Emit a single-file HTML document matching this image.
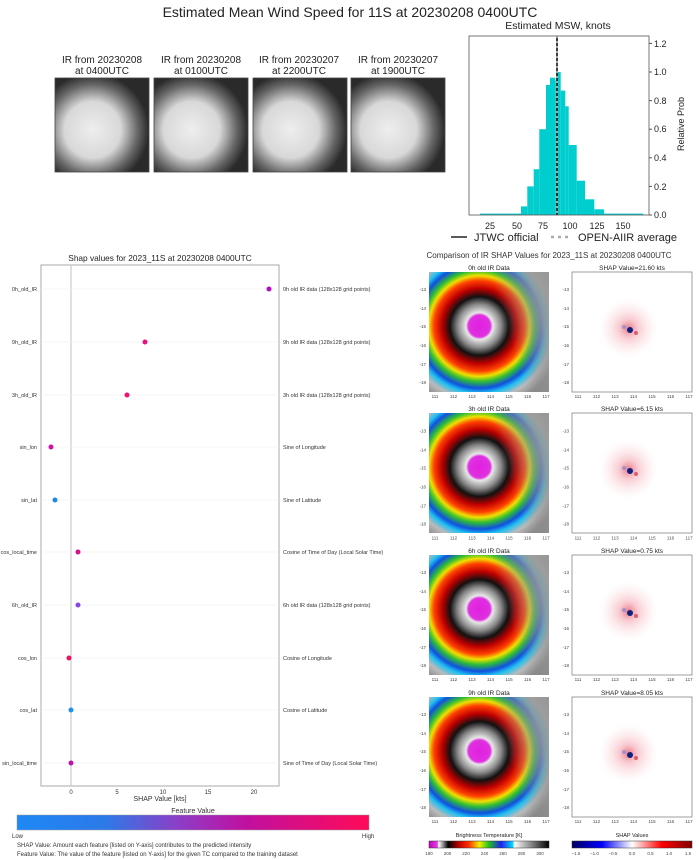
<!DOCTYPE html>
<html><head><meta charset="utf-8"><style>
html,body{margin:0;padding:0;background:#fff}
svg{display:block;font-family:"Liberation Sans",sans-serif}
</style></head><body>
<svg width="699" height="860" viewBox="0 0 699 860" xmlns="http://www.w3.org/2000/svg">
<defs>
<radialGradient id="ir" cx="0.42" cy="0.45" r="0.7">
<stop offset="0" stop-color="#e020e0"/><stop offset="0.13" stop-color="#e030e0"/>
<stop offset="0.16" stop-color="#e8e8e8"/><stop offset="0.26" stop-color="#888"/>
<stop offset="0.35" stop-color="#111"/><stop offset="0.45" stop-color="#c00000"/>
<stop offset="0.54" stop-color="#ff4000"/><stop offset="0.6" stop-color="#f0e000"/>
<stop offset="0.66" stop-color="#30c030"/><stop offset="0.74" stop-color="#1050e0"/>
<stop offset="0.8" stop-color="#20c0f0"/><stop offset="0.88" stop-color="#bbb"/>
<stop offset="1" stop-color="#8a8a8a"/></radialGradient>
<linearGradient id="irfade" x1="0" y1="0.3" x2="1" y2="0">
<stop offset="0" stop-color="#888" stop-opacity="0"/><stop offset="0.55" stop-color="#888" stop-opacity="0"/><stop offset="0.85" stop-color="#999" stop-opacity="0.85"/><stop offset="1" stop-color="#999" stop-opacity="0.9"/></linearGradient>
<radialGradient id="shap" cx="0.48" cy="0.48" r="0.4">
<stop offset="0" stop-color="#e04050" stop-opacity="0.7"/><stop offset="0.3" stop-color="#f08090" stop-opacity="0.4"/><stop offset="0.7" stop-color="#f8c8cc" stop-opacity="0.2"/><stop offset="1" stop-color="#fff" stop-opacity="0"/></radialGradient>
<radialGradient id="thumb" cx="0.4" cy="0.55" r="0.6">
<stop offset="0" stop-color="#eee"/><stop offset="0.5" stop-color="#d8d8d8"/><stop offset="0.8" stop-color="#666"/><stop offset="1" stop-color="#2a2a2a"/></radialGradient>
<linearGradient id="fv" x1="0" x2="1">
<stop offset="0" stop-color="#1e88f5"/><stop offset="0.25" stop-color="#2c7ae8"/><stop offset="0.45" stop-color="#8a40c8"/><stop offset="0.65" stop-color="#c010a0"/><stop offset="1" stop-color="#ff0a58"/></linearGradient>
<linearGradient id="bt" x1="0" x2="1">
<stop offset="0" stop-color="#c000c0"/><stop offset="0.07" stop-color="#e040e0"/><stop offset="0.08" stop-color="#fff"/><stop offset="0.12" stop-color="#888"/><stop offset="0.16" stop-color="#000"/><stop offset="0.25" stop-color="#c00000"/><stop offset="0.33" stop-color="#ff3000"/><stop offset="0.42" stop-color="#f0f000"/><stop offset="0.5" stop-color="#20c020"/><stop offset="0.6" stop-color="#2020f0"/><stop offset="0.7" stop-color="#00e0ff"/><stop offset="0.71" stop-color="#fff"/><stop offset="0.85" stop-color="#888"/><stop offset="1" stop-color="#000"/></linearGradient>
<linearGradient id="sv" x1="0" x2="1">
<stop offset="0" stop-color="#000060"/><stop offset="0.25" stop-color="#0000ff"/><stop offset="0.5" stop-color="#fff"/><stop offset="0.75" stop-color="#ff0000"/><stop offset="1" stop-color="#800000"/></linearGradient>
<g id="irp"><rect width="120" height="120" fill="url(#ir)"/><rect width="120" height="120" fill="url(#irfade)"/></g>
<g id="shp"><rect width="120" height="120" fill="#fff" stroke="#888" stroke-width="0.8"/><circle cx="58" cy="58" r="40" fill="url(#shap)"/><circle cx="58" cy="58" r="3" fill="#102080"/><circle cx="52" cy="55" r="2" fill="#7080e0" opacity="0.6"/><circle cx="64" cy="61" r="2" fill="#d03040" opacity="0.7"/></g>
<g id="thumbg"><rect width="94" height="94" fill="url(#thumb)" stroke="#444" stroke-width="0.8"/></g>
</defs>

<text x="350" y="17" font-size="14" text-anchor="middle" fill="#222">Estimated Mean Wind Speed for 11S at 20230208 0400UTC</text>

<g font-size="10" text-anchor="middle" fill="#222">
<text x="102" y="63">IR from 20230208</text><text x="102" y="74">at 0400UTC</text>
<text x="201" y="63">IR from 20230208</text><text x="201" y="74">at 0100UTC</text>
<text x="299" y="63">IR from 20230207</text><text x="299" y="74">at 2200UTC</text>
<text x="398" y="63">IR from 20230207</text><text x="398" y="74">at 1900UTC</text>
</g>
<use href="#thumbg" x="55" y="78"/><use href="#thumbg" x="154" y="78"/><use href="#thumbg" x="253" y="78"/><use href="#thumbg" x="351" y="78"/>

<text x="558" y="29" font-size="10.5" text-anchor="middle" fill="#222">Estimated MSW, knots</text>
<g fill="#00cdcd">
<rect x="480" y="213.6" width="41" height="1.4"/><rect x="521" y="206.4" width="6.3" height="8.6"/><rect x="527.3" y="186.4" width="6.4" height="28.6"/><rect x="533.7" y="169.2" width="5.6" height="45.8"/><rect x="539.3" y="129.2" width="6.7" height="85.8"/><rect x="546" y="84.9" width="4" height="130.1"/><rect x="550" y="77.7" width="5.3" height="137.3"/><rect x="555.3" y="80.6" width="2" height="134.4"/><rect x="557.3" y="72" width="3.4" height="143"/><rect x="560.7" y="90.6" width="4.6" height="124.4"/><rect x="565.3" y="106.3" width="3.4" height="108.7"/><rect x="568.7" y="145" width="8" height="70"/><rect x="576.7" y="180.7" width="8.3" height="34.3"/><rect x="585" y="199.3" width="9.3" height="15.7"/><rect x="594.3" y="209.3" width="9.7" height="5.7"/><rect x="604" y="213.6" width="39.3" height="1.4"/>
</g>
<line x1="557" y1="36" x2="557" y2="215" stroke="#000" stroke-width="1.5"/>
<line x1="557" y1="36" x2="557" y2="215" stroke="#aaa" stroke-width="2" stroke-dasharray="2,3"/>
<rect x="469" y="36" width="180" height="179" fill="none" stroke="#555" stroke-width="0.8"/>
<g font-size="9" fill="#222">
<g stroke="#555"><line x1="649" y1="215" x2="652" y2="215"/><line x1="649" y1="186.4" x2="652" y2="186.4"/><line x1="649" y1="157.8" x2="652" y2="157.8"/><line x1="649" y1="129.2" x2="652" y2="129.2"/><line x1="649" y1="100.6" x2="652" y2="100.6"/><line x1="649" y1="72" x2="652" y2="72"/><line x1="649" y1="43.4" x2="652" y2="43.4"/></g>
<text x="654" y="218">0.0</text><text x="654" y="190">0.2</text><text x="654" y="161">0.4</text><text x="654" y="132">0.6</text><text x="654" y="104">0.8</text><text x="654" y="75">1.0</text><text x="654" y="47">1.2</text>
<g text-anchor="middle"><text x="490" y="229">25</text><text x="517" y="229">50</text><text x="543" y="229">75</text><text x="570" y="229">100</text><text x="597" y="229">125</text><text x="623" y="229">150</text></g>
<text x="684" y="124" transform="rotate(-90 684 124)" text-anchor="middle">Relative Prob</text>
</g>
<line x1="451" y1="237" x2="467" y2="237" stroke="#222" stroke-width="1.5"/>
<text x="474" y="241" font-size="11" fill="#222">JTWC official</text>
<line x1="551" y1="237" x2="570" y2="237" stroke="#aaa" stroke-width="2.5" stroke-dasharray="3,4"/>
<text x="578" y="241" font-size="11" fill="#222">OPEN-AIIR average</text>

<text x="160" y="261" font-size="8.3" text-anchor="middle" fill="#222">Shap values for 2023_11S at 20230208 0400UTC</text>
<rect x="41" y="265" width="238" height="521" fill="none" stroke="#aaa" stroke-width="1"/>
<line x1="71" y1="265" x2="71" y2="786" stroke="#ccc" stroke-width="1.2"/>
<g stroke="#eee" stroke-width="0.6">
<line x1="41" y1="289" x2="279" y2="289"/><line x1="41" y1="342" x2="279" y2="342"/><line x1="41" y1="395" x2="279" y2="395"/><line x1="41" y1="447" x2="279" y2="447"/><line x1="41" y1="500" x2="279" y2="500"/><line x1="41" y1="552" x2="279" y2="552"/><line x1="41" y1="605" x2="279" y2="605"/><line x1="41" y1="658" x2="279" y2="658"/><line x1="41" y1="710" x2="279" y2="710"/><line x1="41" y1="763" x2="279" y2="763"/>
</g>
<g font-size="5.5" fill="#333" text-anchor="end">
<text x="37" y="291">0h_old_IR</text><text x="37" y="344">9h_old_IR</text><text x="37" y="397">3h_old_IR</text><text x="37" y="449">sin_lon</text><text x="37" y="502">sin_lat</text><text x="37" y="554">cos_local_time</text><text x="37" y="607">6h_old_IR</text><text x="37" y="660">cos_lon</text><text x="37" y="712">cos_lat</text><text x="37" y="765">sin_local_time</text>
</g>
<g font-size="5.5" fill="#333">
<text x="283" y="291">0h old IR data (128x128 grid points)</text><text x="283" y="344">9h old IR data (128x128 grid points)</text><text x="283" y="397">3h old IR data (128x128 grid points)</text><text x="283" y="449">Sine of Longitude</text><text x="283" y="502">Sine of Latitude</text><text x="283" y="554">Cosine of Time of Day (Local Solar Time)</text><text x="283" y="607">6h old IR data (128x128 grid points)</text><text x="283" y="660">Cosine of Longitude</text><text x="283" y="712">Cosine of Latitude</text><text x="283" y="765">Sine of Time of Day (Local Solar Time)</text>
</g>
<g>
<circle cx="269" cy="289" r="2.5" fill="#b010c0"/><circle cx="145" cy="342" r="2.5" fill="#e8107a"/><circle cx="127" cy="395" r="2.5" fill="#f01070"/><circle cx="51" cy="447" r="2.5" fill="#d010a8"/><circle cx="55" cy="500" r="2.5" fill="#1e88e5"/><circle cx="78" cy="552" r="2.5" fill="#d01090"/><circle cx="78" cy="605" r="2.5" fill="#8a44e8"/><circle cx="69" cy="658" r="2.5" fill="#f01060"/><circle cx="71" cy="710" r="2.5" fill="#1e90f0"/><circle cx="71" cy="763" r="2.5" fill="#c010b0"/>
</g>
<g font-size="6" fill="#333" text-anchor="middle">
<text x="71" y="794">0</text><text x="117" y="794">5</text><text x="163" y="794">10</text><text x="208" y="794">15</text><text x="254" y="794">20</text>
</g>
<text x="160" y="801" font-size="7" text-anchor="middle" fill="#333">SHAP Value [kts]</text>
<text x="193" y="813" font-size="7" text-anchor="middle" fill="#333">Feature Value</text>
<rect x="17" y="815" width="352" height="15" fill="url(#fv)" stroke="#999" stroke-width="0.5"/>
<text x="12" y="838" font-size="6" fill="#333">Low</text><text x="362" y="838" font-size="6" fill="#333">High</text>
<text x="17" y="847" font-size="6" fill="#333">SHAP Value: Amount each feature [listed on Y-axis] contributes to the predicted intensity</text>
<text x="17" y="856" font-size="6" fill="#333">Feature Value: The value of the feature [listed on Y-axis] for the given TC compared to the training dataset</text>

<text x="549" y="258" font-size="8" text-anchor="middle" fill="#333">Comparison of IR SHAP Values for 2023_11S at 20230208 0400UTC</text>
<g font-size="6.5" text-anchor="middle" fill="#222">
<text x="489" y="270">0h old IR Data</text><text x="632" y="270">SHAP Value=21.60 kts</text>
<text x="489" y="411">3h old IR Data</text><text x="632" y="411">SHAP Value=6.15 kts</text>
<text x="489" y="553">6h old IR Data</text><text x="632" y="553">SHAP Value=0.75 kts</text>
<text x="489" y="695">9h old IR Data</text><text x="632" y="695">SHAP Value=8.05 kts</text>
</g>
<use href="#irp" x="429" y="272"/><use href="#shp" x="572" y="272"/>
<use href="#irp" x="429" y="413"/><use href="#shp" x="572" y="413"/>
<use href="#irp" x="429" y="555"/><use href="#shp" x="572" y="555"/>
<use href="#irp" x="429" y="697"/><use href="#shp" x="572" y="697"/>

<g font-size="4.5" fill="#444">
<g text-anchor="end"><text x="426" y="291">-13</text><text x="426" y="310">-14</text><text x="426" y="328">-15</text><text x="426" y="347">-16</text><text x="426" y="366">-17</text><text x="426" y="384">-18</text>
<text x="569" y="291">-13</text><text x="569" y="310">-14</text><text x="569" y="328">-15</text><text x="569" y="347">-16</text><text x="569" y="366">-17</text><text x="569" y="384">-18</text></g>
<g text-anchor="middle"><text x="435" y="398">111</text><text x="453.5" y="398">112</text><text x="472" y="398">113</text><text x="490.5" y="398">114</text><text x="509" y="398">115</text><text x="527.5" y="398">116</text><text x="546" y="398">117</text>
<text x="578" y="398">111</text><text x="596.5" y="398">112</text><text x="615" y="398">113</text><text x="633.5" y="398">114</text><text x="652" y="398">115</text><text x="670.5" y="398">116</text><text x="689" y="398">117</text></g>
</g>
<g font-size="4.5" fill="#444" transform="translate(0,141.5)">
<g text-anchor="end"><text x="426" y="291">-13</text><text x="426" y="310">-14</text><text x="426" y="328">-15</text><text x="426" y="347">-16</text><text x="426" y="366">-17</text><text x="426" y="384">-18</text>
<text x="569" y="291">-13</text><text x="569" y="310">-14</text><text x="569" y="328">-15</text><text x="569" y="347">-16</text><text x="569" y="366">-17</text><text x="569" y="384">-18</text></g>
<g text-anchor="middle"><text x="435" y="398">111</text><text x="453.5" y="398">112</text><text x="472" y="398">113</text><text x="490.5" y="398">114</text><text x="509" y="398">115</text><text x="527.5" y="398">116</text><text x="546" y="398">117</text>
<text x="578" y="398">111</text><text x="596.5" y="398">112</text><text x="615" y="398">113</text><text x="633.5" y="398">114</text><text x="652" y="398">115</text><text x="670.5" y="398">116</text><text x="689" y="398">117</text></g>
</g>
<g font-size="4.5" fill="#444" transform="translate(0,283)">
<g text-anchor="end"><text x="426" y="291">-13</text><text x="426" y="310">-14</text><text x="426" y="328">-15</text><text x="426" y="347">-16</text><text x="426" y="366">-17</text><text x="426" y="384">-18</text>
<text x="569" y="291">-13</text><text x="569" y="310">-14</text><text x="569" y="328">-15</text><text x="569" y="347">-16</text><text x="569" y="366">-17</text><text x="569" y="384">-18</text></g>
<g text-anchor="middle"><text x="435" y="398">111</text><text x="453.5" y="398">112</text><text x="472" y="398">113</text><text x="490.5" y="398">114</text><text x="509" y="398">115</text><text x="527.5" y="398">116</text><text x="546" y="398">117</text>
<text x="578" y="398">111</text><text x="596.5" y="398">112</text><text x="615" y="398">113</text><text x="633.5" y="398">114</text><text x="652" y="398">115</text><text x="670.5" y="398">116</text><text x="689" y="398">117</text></g>
</g>
<g font-size="4.5" fill="#444" transform="translate(0,425)">
<g text-anchor="end"><text x="426" y="291">-13</text><text x="426" y="310">-14</text><text x="426" y="328">-15</text><text x="426" y="347">-16</text><text x="426" y="366">-17</text><text x="426" y="384">-18</text>
<text x="569" y="291">-13</text><text x="569" y="310">-14</text><text x="569" y="328">-15</text><text x="569" y="347">-16</text><text x="569" y="366">-17</text><text x="569" y="384">-18</text></g>
<g text-anchor="middle"><text x="435" y="398">111</text><text x="453.5" y="398">112</text><text x="472" y="398">113</text><text x="490.5" y="398">114</text><text x="509" y="398">115</text><text x="527.5" y="398">116</text><text x="546" y="398">117</text>
<text x="578" y="398">111</text><text x="596.5" y="398">112</text><text x="615" y="398">113</text><text x="633.5" y="398">114</text><text x="652" y="398">115</text><text x="670.5" y="398">116</text><text x="689" y="398">117</text></g>
</g>

<text x="489" y="837" font-size="5.5" text-anchor="middle" fill="#222">Brightness Temperature [K]</text>
<rect x="429" y="841" width="120" height="7" fill="url(#bt)" stroke="#333" stroke-width="0.5"/>
<g font-size="4.5" fill="#444" text-anchor="middle"><text x="429" y="855">180</text><text x="447.5" y="855">200</text><text x="466" y="855">220</text><text x="484.5" y="855">240</text><text x="503" y="855">260</text><text x="521.5" y="855">280</text><text x="540" y="855">300</text></g>
<text x="632" y="837" font-size="5.5" text-anchor="middle" fill="#222">SHAP Values</text>
<rect x="572" y="841" width="120" height="7" fill="url(#sv)" stroke="#333" stroke-width="0.5"/>
<g font-size="4.5" fill="#444" text-anchor="middle"><text x="576" y="855">−1.5</text><text x="594.5" y="855">−1.0</text><text x="613" y="855">−0.5</text><text x="632" y="855">0.0</text><text x="650.5" y="855">0.5</text><text x="669" y="855">1.0</text><text x="688" y="855">1.5</text></g>
</svg>
</body></html>
